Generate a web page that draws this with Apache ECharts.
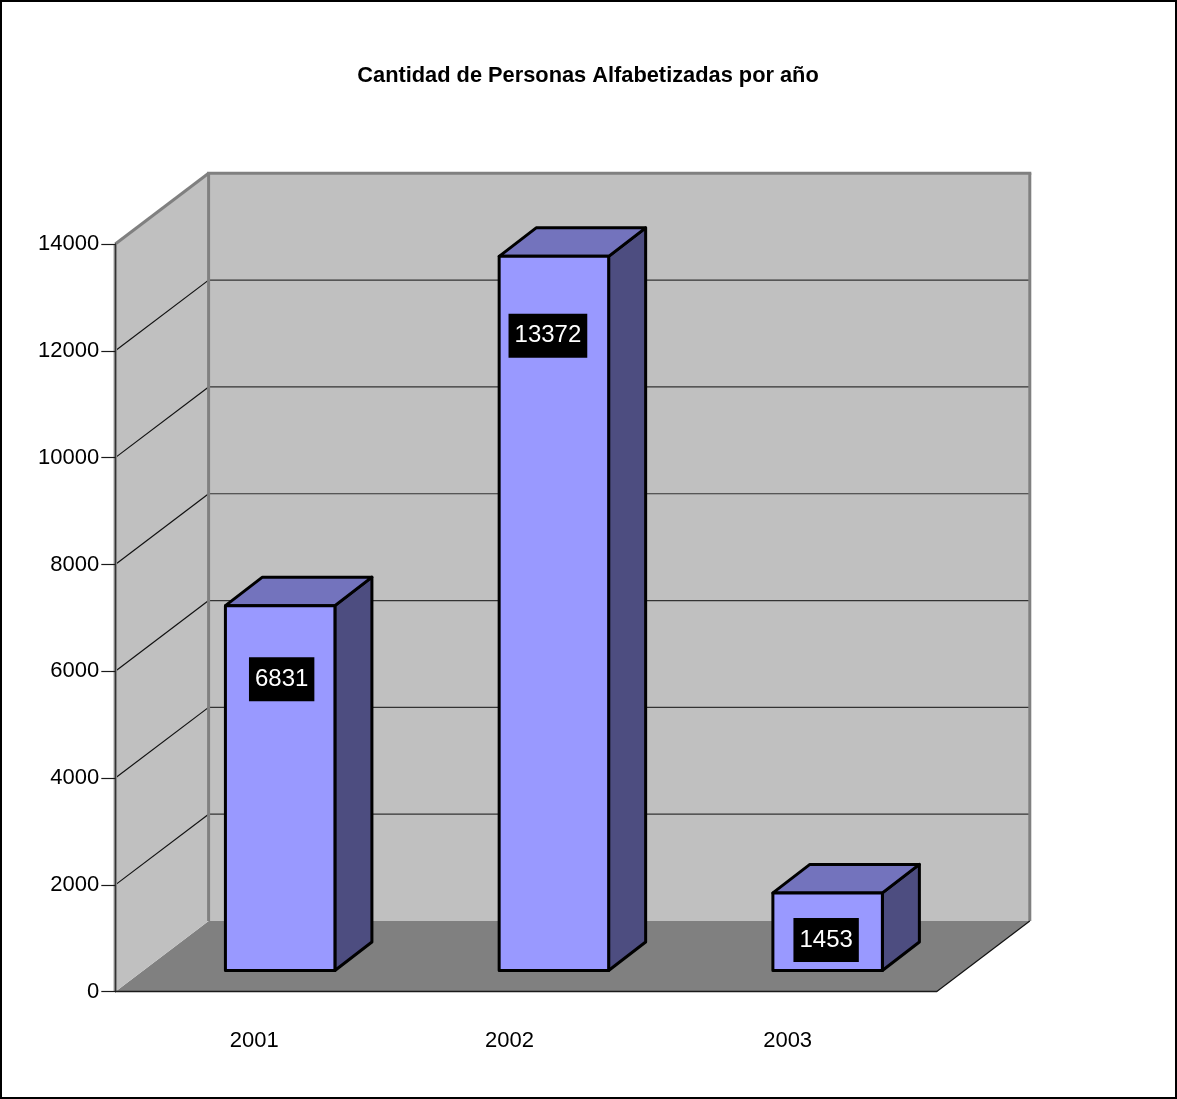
<!DOCTYPE html>
<html>
<head>
<meta charset="utf-8">
<style>html,body{margin:0;padding:0;background:#fff}#c{width:1177px;height:1099px}</style>
<script src="https://cdn.jsdelivr.net/npm/echarts@6/dist/echarts.min.js"></script>
</head>
<body>
<div id="c"></div>
<script>
const titleText = 'Cantidad de Personas Alfabetizadas por año';
const years = ['2001', '2002', '2003'];
const personas = [6831, 13372, 1453];
const yMax = 14000;
const yStep = 2000;
const yTicks = [2000, 4000, 6000, 8000, 10000, 12000];

// layout of the oblique projection (pixels)
const WALL = { dx: 93.3, dy: -70.7 };
const BAR = { shift: 28, frontDy: -21.2, depthX: 37, depthY: -28.5, widthRatio: 0.4 };
const labelNudge = [[1.5, 73.5], [-6, 79.5], [-1.5, 47]];
const yearPad = [[0, 0, 0, 4], [0, 33, 0, 0], [0, 24, 0, 0]];

const FONT = '"Liberation Sans", Arial, sans-serif';
const chart = echarts.init(document.getElementById('c'), null, { renderer: 'canvas' });

function poly(points, fill, stroke, lineWidth) {
  return { type: 'polygon', shape: { points }, style: { fill, stroke: stroke || 'none', lineWidth: lineWidth || 0, lineJoin: 'round' } };
}
function line(x1, y1, x2, y2, stroke, lineWidth) {
  return { type: 'line', shape: { x1, y1, x2, y2 }, style: { stroke, lineWidth } };
}

function renderWalls(params, api) {
  const cs = params.coordSys;
  const L = cs.x, R = cs.x + cs.width, T = cs.y, B = cs.y + cs.height;
  const d = WALL;
  const children = [
    poly([[L, B], [L + d.dx, B + d.dy], [R + d.dx, B + d.dy], [R, B]], '#808080'),
    poly([[L, T], [L + d.dx, T + d.dy], [L + d.dx, B + d.dy], [L, B]], '#c0c0c0'),
    poly([[L + d.dx, T + d.dy], [R + d.dx, T + d.dy], [R + d.dx, B + d.dy], [L + d.dx, B + d.dy]], '#c0c0c0')
  ];
  yTicks.forEach(function (t) {
    const y = api.coord([0, t])[1];
    children.push(line(L, y, L + d.dx, y + d.dy, '#111111', 1.2));
    children.push(line(L + d.dx, y + d.dy, R + d.dx, y + d.dy, '#333333', 1.2));
  });
  children.push(
    line(L, T, L + d.dx, T + d.dy, '#808080', 3),
    line(L + d.dx - 1.5, T + d.dy, R + d.dx + 1.5, T + d.dy, '#808080', 3),
    line(L + d.dx, T + d.dy, L + d.dx, B + d.dy, '#808080', 3),
    line(R + d.dx, T + d.dy, R + d.dx, B + d.dy, '#808080', 3),
    line(L, T, L, B, '#9a9a9a', 3.5),
    line(R, B, R + d.dx, B + d.dy, '#111111', 1.2)
  );
  return { type: 'group', children };
}

function renderBar(params, api) {
  const c = api.coord([api.value(0), api.value(1)]);
  const base = api.coord([api.value(0), 0]);
  const w = api.size([1, 0])[0] * BAR.widthRatio;
  const x0 = c[0] + BAR.shift - w / 2, x1 = x0 + w;
  const top = c[1] + BAR.frontDy, bot = base[1] + BAR.frontDy;
  const ax = BAR.depthX, ay = BAR.depthY;
  const nudge = labelNudge[params.dataIndex];
  const black = '#000000';
  return {
    type: 'group',
    children: [
      poly([[x1, top], [x1 + ax, top + ay], [x1 + ax, bot + ay], [x1, bot]], '#4d4d80', black, 3),
      poly([[x0, top], [x0 + ax, top + ay], [x1 + ax, top + ay], [x1, top]], '#7373bd', black, 3),
      poly([[x0, top], [x1, top], [x1, bot], [x0, bot]], '#9999ff', black, 3),
      {
        type: 'text',
        z2: 10,
        style: {
          text: String(api.value(1)),
          x: (x0 + x1) / 2 + nudge[0],
          y: top + nudge[1],
          align: 'center',
          verticalAlign: 'middle',
          fill: '#ffffff',
          font: '24px ' + FONT,
          lineHeight: 28,
          backgroundColor: '#000000',
          padding: [8, 6, 8, 6]
        }
      }
    ]
  };
}

chart.setOption({
  animation: false,
  backgroundColor: '#ffffff',
  title: {
    text: titleText,
    left: 583,
    top: 59.5,
    textAlign: 'center',
    textStyle: { fontFamily: FONT, fontSize: 21.8, fontWeight: 'bold', color: '#000' }
  },
  grid: { left: 115.3, right: 240.5, top: 244, bottom: 107.3, containLabel: false },
  xAxis: {
    type: 'category',
    z: 10,
    data: years.map(function (y, i) {
      return { value: y, textStyle: { padding: yearPad[i] } };
    }),
    axisLine: { show: true, lineStyle: { color: '#1a1a1a', width: 1.4 } },
    axisTick: { show: false },
    axisLabel: { interval: 0, margin: 38, fontFamily: FONT, fontSize: 22, color: '#000' }
  },
  yAxis: {
    type: 'value',
    z: 10,
    min: 0,
    max: yMax,
    interval: yStep,
    splitLine: { show: false },
    axisLine: { show: true, lineStyle: { color: '#333333', width: 1.4 } },
    axisTick: { show: true, length: 14, lineStyle: { color: '#1a1a1a', width: 1.2 } },
    axisLabel: { margin: 16, fontFamily: FONT, fontSize: 22, color: '#000', formatter: function (v) { return String(v); } }
  },
  graphic: [{
    type: 'rect',
    silent: true,
    z: 100,
    shape: { x: 1, y: 1, width: 1175, height: 1097 },
    style: { fill: 'none', stroke: '#000', lineWidth: 2 }
  }],
  series: [
    { type: 'custom', name: 'paredes', coordinateSystem: 'cartesian2d', z: 1, silent: true, clip: false,
      renderItem: renderWalls, data: [[0, 0]], encode: { x: 0, y: 1 } },
    { type: 'custom', name: 'Personas', coordinateSystem: 'cartesian2d', z: 3, clip: false,
      renderItem: renderBar, data: personas.map(function (v, i) { return [i, v]; }), encode: { x: 0, y: 1 } }
  ]
});
</script>
</body>
</html>
